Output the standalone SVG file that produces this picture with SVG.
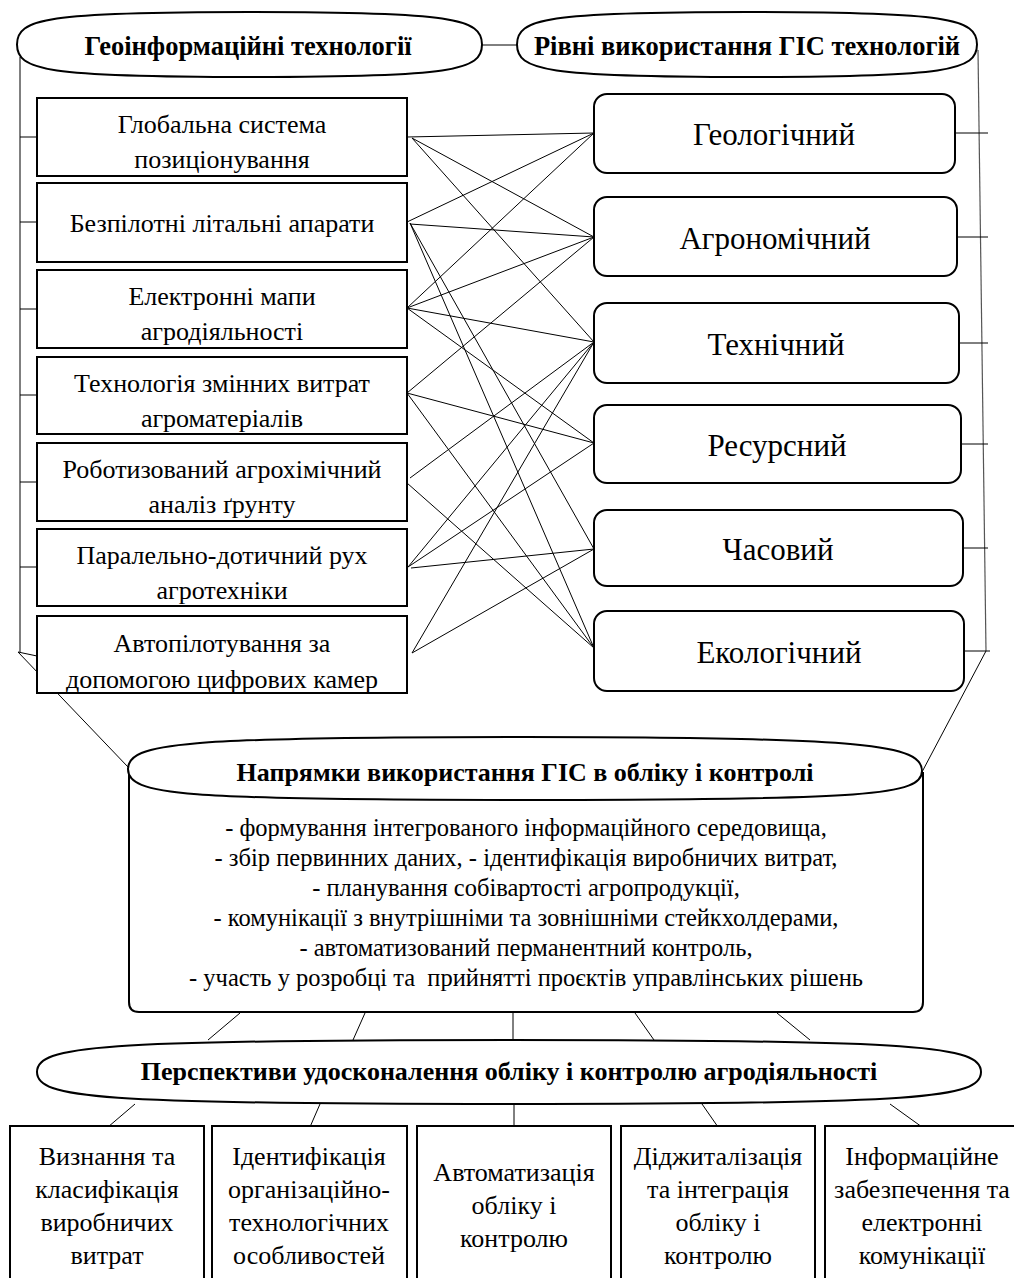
<svg xmlns="http://www.w3.org/2000/svg" width="1014" height="1278" viewBox="0 0 1014 1278">
<style>
.bg{fill:#fff}
.box{fill:#fff;stroke:#000;stroke-width:2}
.rbox{fill:#fff;stroke:#000;stroke-width:2}
.ell{fill:#fff;stroke:#000;stroke-width:2}
.ln{stroke:#000;stroke-width:1;fill:none}
.gl{stroke:#555;stroke-width:1.2;fill:none}
.t{font-family:"Liberation Serif","Times New Roman",serif;fill:#000;text-anchor:middle}
.tb{font-family:"Liberation Serif","Times New Roman",serif;fill:#000;text-anchor:middle;font-weight:bold;font-size:26px}
.tt{font-size:26.5px}
.lt{font-size:26px}
.rt{font-size:31px}
.ct{font-size:24.5px}
.bt{font-size:26px}
</style>
<rect class="bg" x="0" y="0" width="1014" height="1278"/>
<g id="connectors">
<line class="ln" x1="482" y1="45" x2="517" y2="45"/>
<line class="ln" x1="20" y1="57" x2="20" y2="652"/>
<line class="ln" x1="20" y1="137" x2="37" y2="137"/>
<line class="ln" x1="20" y1="222" x2="37" y2="222"/>
<line class="ln" x1="20" y1="309" x2="37" y2="309"/>
<line class="ln" x1="20" y1="395" x2="37" y2="395"/>
<line class="ln" x1="20" y1="482" x2="37" y2="482"/>
<line class="ln" x1="20" y1="567" x2="37" y2="567"/>
<line class="ln" x1="18" y1="652" x2="37" y2="656"/>
<line class="ln" x1="18" y1="652" x2="128" y2="767"/>
<line class="gl" x1="978" y1="50" x2="986" y2="651"/>
<line class="ln" x1="955" y1="133" x2="988" y2="133"/>
<line class="ln" x1="957" y1="237" x2="988" y2="237"/>
<line class="ln" x1="959" y1="343" x2="988" y2="343"/>
<line class="ln" x1="961" y1="444" x2="988" y2="444"/>
<line class="ln" x1="963" y1="548" x2="988" y2="548"/>
<line class="ln" x1="964" y1="651" x2="990" y2="651"/>
<line class="ln" x1="986" y1="651" x2="922" y2="772"/>
<line class="ln" x1="407" y1="137" x2="594" y2="133"/>
<line class="ln" x1="412" y1="138" x2="594" y2="237"/>
<line class="ln" x1="412" y1="138" x2="594" y2="342"/>
<line class="ln" x1="407" y1="222" x2="594" y2="133"/>
<line class="ln" x1="410" y1="224" x2="594" y2="237"/>
<line class="ln" x1="410" y1="223" x2="594" y2="549"/>
<line class="ln" x1="410" y1="223" x2="594" y2="648"/>
<line class="ln" x1="407" y1="308" x2="594" y2="133"/>
<line class="ln" x1="407" y1="308" x2="594" y2="237"/>
<line class="ln" x1="407" y1="308" x2="594" y2="342"/>
<line class="ln" x1="407" y1="308" x2="594" y2="443"/>
<line class="ln" x1="407" y1="393" x2="594" y2="237"/>
<line class="ln" x1="407" y1="393" x2="594" y2="443"/>
<line class="ln" x1="407" y1="393" x2="594" y2="648"/>
<line class="ln" x1="410" y1="478" x2="594" y2="342"/>
<line class="ln" x1="407" y1="483" x2="594" y2="648"/>
<line class="ln" x1="408" y1="567" x2="594" y2="342"/>
<line class="ln" x1="408" y1="567" x2="594" y2="443"/>
<line class="ln" x1="411" y1="568" x2="594" y2="549"/>
<line class="ln" x1="412" y1="653" x2="594" y2="342"/>
<line class="ln" x1="412" y1="653" x2="594" y2="549"/>
<line class="ln" x1="240" y1="1013" x2="208" y2="1040"/>
<line class="ln" x1="365" y1="1013" x2="353" y2="1040"/>
<line class="ln" x1="513" y1="1013" x2="513" y2="1040"/>
<line class="ln" x1="635" y1="1013" x2="654" y2="1040"/>
<line class="ln" x1="777" y1="1013" x2="810" y2="1040"/>
<line class="ln" x1="135" y1="1104" x2="108" y2="1127"/>
<line class="ln" x1="320" y1="1104" x2="310" y2="1127"/>
<line class="ln" x1="514" y1="1104" x2="514" y2="1127"/>
<line class="ln" x1="702" y1="1104" x2="718" y2="1127"/>
<line class="ln" x1="890" y1="1104" x2="922" y2="1127"/>
</g>
<g id="geo-title">
<path class="ell" d="M17,44.5 C17,18.5 46,12 249.5,12 C453,12 482,18.5 482,44.5 C482,70.5 453,77 249.5,77 C46,77 17,70.5 17,44.5 Z"/>
<text class="tb tt" x="248" y="55">Геоінформаційні технології</text>
</g>
<g id="levels-title">
<path class="ell" d="M517,44.5 C517,18.5 546,12 747,12 C948,12 977,18.5 977,44.5 C977,70.5 948,77 747,77 C546,77 517,70.5 517,44.5 Z"/>
<text class="tb tt" x="747" y="55">Рівні використання ГІС технологій</text>
</g>
<g id="tech-1"><rect class="box" x="37" y="98" width="370" height="78"/><text class="t lt" x="222" y="133">Глобальна система</text><text class="t lt" x="222" y="168">позиціонування</text></g>
<g id="tech-2"><rect class="box" x="37" y="183" width="370" height="79"/><text class="t lt" x="222" y="232">Безпілотні літальні апарати</text></g>
<g id="tech-3"><rect class="box" x="37" y="270" width="370" height="78"/><text class="t lt" x="222" y="305">Електронні мапи</text><text class="t lt" x="222" y="340">агродіяльності</text></g>
<g id="tech-4"><rect class="box" x="37" y="357" width="370" height="77"/><text class="t lt" x="222" y="392">Технологія змінних витрат</text><text class="t lt" x="222" y="427">агроматеріалів</text></g>
<g id="tech-5"><rect class="box" x="37" y="443" width="370" height="78"/><text class="t lt" x="222" y="478">Роботизований агрохімічний</text><text class="t lt" x="222" y="513">аналіз ґрунту</text></g>
<g id="tech-6"><rect class="box" x="37" y="529" width="370" height="77"/><text class="t lt" x="222" y="564">Паралельно-дотичний рух</text><text class="t lt" x="222" y="599">агротехніки</text></g>
<g id="tech-7"><rect class="box" x="37" y="616" width="370" height="77"/><text class="t lt" x="222" y="652">Автопілотування за</text><text class="t lt" x="222" y="688">допомогою цифрових камер</text></g>
<g id="level-1"><rect class="rbox" x="594" y="94" width="361" height="79" rx="13"/><text class="t rt" x="774" y="145">Геологічний</text></g>
<g id="level-2"><rect class="rbox" x="594" y="197" width="363" height="79" rx="13"/><text class="t rt" x="775" y="249">Агрономічний</text></g>
<g id="level-3"><rect class="rbox" x="594" y="303" width="365" height="80" rx="13"/><text class="t rt" x="776" y="355">Технічний</text></g>
<g id="level-4"><rect class="rbox" x="594" y="405" width="367" height="78" rx="13"/><text class="t rt" x="777" y="456">Ресурсний</text></g>
<g id="level-5"><rect class="rbox" x="594" y="510" width="369" height="76" rx="13"/><text class="t rt" x="778" y="560">Часовий</text></g>
<g id="level-6"><rect class="rbox" x="594" y="611" width="370" height="80" rx="13"/><text class="t rt" x="779" y="663">Екологічний</text></g>
<g id="directions">
<path class="box" d="M129,768 L129,1002 Q129,1012 139,1012 L913,1012 Q923,1012 923,1002 L923,772"/>
<path class="ell" d="M128,769 C128,743 180,737 525,737 C870,737 922,745 922,771 C922,795 870,800 525,800 C180,800 128,795 128,769 Z"/>
<text class="tb" x="525" y="781">Напрямки використання ГІС в обліку і контролі</text>
<text class="t ct" x="526" y="836">- формування інтегрованого інформаційного середовища,</text>
<text class="t ct" x="526" y="866">- збір первинних даних, - ідентифікація виробничих витрат,</text>
<text class="t ct" x="526" y="896">- планування собівартості агропродукції,</text>
<text class="t ct" x="526" y="926">- комунікації з внутрішніми та зовнішніми стейкхолдерами,</text>
<text class="t ct" x="526" y="956">- автоматизований перманентний контроль,</text>
<text class="t ct" x="526" y="986" xml:space="preserve">- участь у розробці та  прийнятті проєктів управлінських рішень</text>
</g>
<g id="perspectives">
<path class="ell" d="M37,1072 C37,1046 96,1040 509,1040 C922,1040 981,1046 981,1072 C981,1098 922,1104 509,1104 C96,1104 37,1098 37,1072 Z"/>
<text class="tb" x="509" y="1080">Перспективи удосконалення обліку і контролю агродіяльності</text>
</g>
<g id="persp-1"><rect class="box" x="10" y="1126" width="194" height="170"/><text class="t bt" x="107" y="1165">Визнання та</text><text class="t bt" x="107" y="1198">класифікація</text><text class="t bt" x="107" y="1231">виробничих</text><text class="t bt" x="107" y="1264">витрат</text></g>
<g id="persp-2"><rect class="box" x="212" y="1126" width="195" height="170"/><text class="t bt" x="309" y="1165">Ідентифікація</text><text class="t bt" x="309" y="1198">організаційно-</text><text class="t bt" x="309" y="1231">технологічних</text><text class="t bt" x="309" y="1264">особливостей</text></g>
<g id="persp-3"><rect class="box" x="417" y="1126" width="194" height="170"/><text class="t bt" x="514" y="1181">Автоматизація</text><text class="t bt" x="514" y="1214">обліку і</text><text class="t bt" x="514" y="1247">контролю</text></g>
<g id="persp-4"><rect class="box" x="621" y="1126" width="194" height="170"/><text class="t bt" x="718" y="1165">Діджиталізація</text><text class="t bt" x="718" y="1198">та інтеграція</text><text class="t bt" x="718" y="1231">обліку і</text><text class="t bt" x="718" y="1264">контролю</text></g>
<g id="persp-5"><rect class="box" x="825" y="1126" width="194" height="170"/><text class="t bt" x="922" y="1165">Інформаційне</text><text class="t bt" x="922" y="1198">забезпечення та</text><text class="t bt" x="922" y="1231">електронні</text><text class="t bt" x="922" y="1264">комунікації</text></g>
</svg>
